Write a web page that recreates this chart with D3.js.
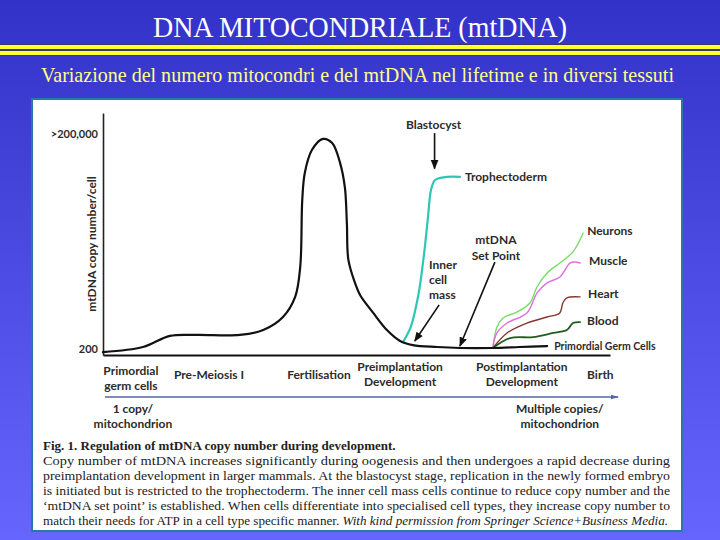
<!DOCTYPE html>
<html lang="it">
<head>
<meta charset="UTF-8">
<title>DNA MITOCONDRIALE (mtDNA)</title>
<script src="https://d3js.org/d3.v7.min.js"></script>
<style>
  html, body { margin: 0; padding: 0; background: #3333cc; }
  svg { display: block; }
  .lbl { font-family: Lato, "Open Sans", sans-serif; font-weight: 700; font-size: 12px; fill: #2b2b2b; }
  .cap { font-family: "Liberation Serif", "DejaVu Serif", serif; font-size: 13px; fill: #222; }
</style>
</head>
<body>
<div id="chart"></div>
<script>
  // ---- data (x: developmental time, 0-100; y: relative copy number, 0-100) ----
  const germline = [
    [0, 1.2], [7.9, 3.3], [13.2, 7.9], [18.5, 8.3], [27.0, 8.3], [31.6, 10.3],
    [35.5, 15.7], [37.9, 24.0], [38.9, 36.4], [39.3, 64.0], [39.8, 75.2],
    [41.2, 84.7], [43.4, 89.3], [45.2, 87.6], [46.7, 79.8], [47.7, 69.4],
    [48.1, 54.5], [48.4, 39.3], [49.7, 29.8], [50.7, 24.8], [53.3, 17.4],
    [56.0, 10.3], [58.6, 5.8], [61.1, 4.1], [65.9, 3.3], [70.4, 2.9],
    [76.9, 2.9], [82.2, 3.3], [87.6, 3.7]
  ];
  const trophectoderm = [
    [59.2, 5.4], [60.7, 11.6], [62.2, 24.8], [63.3, 41.3], [64.1, 57.0],
    [64.7, 68.2], [65.5, 72.3], [67.9, 73.6], [70.4, 73.6]
  ];
  const neurons = [
    [76.9, 3.3], [77.7, 11.6], [78.9, 15.3], [81.7, 17.8], [84.2, 21.5],
    [85.6, 28.1], [87.6, 33.9], [90.1, 38.0], [92.7, 42.6], [94.7, 50.4]
  ];
  const muscle = [
    [76.9, 2.9], [77.7, 9.1], [79.7, 13.2], [83.6, 17.4], [85.6, 25.6],
    [87.6, 29.8], [90.1, 32.2], [92.1, 38.0], [93.1, 38.4], [94.1, 38.0]
  ];
  const heart = [
    [76.9, 2.9], [79.7, 9.1], [83.6, 13.2], [87.6, 15.7], [90.1, 17.4],
    [90.7, 21.5], [91.5, 23.6], [94.1, 24.0]
  ];
  const blood = [
    [76.9, 2.9], [80.3, 7.0], [84.8, 7.4], [88.8, 9.1], [91.5, 10.3],
    [92.7, 13.2], [94.1, 13.6]
  ];
  const yTicks = [2.5, 91.3];
  const yTickLabels = ["200", ">200,000"];

  const stageNames = [["Primordial", "germ cells"], ["Pre-Meiosis I"], ["Fertilisation"],
    ["Preimplantation", "Development"], ["Postimplantation", "Development"], ["Birth"]];
  const stageX = [5.5, 20.9, 42.6, 58.6, 82.6, 98.1];

  const captionTitle = "Fig. 1. Regulation of mtDNA copy number during development.";
  const captionLines = [
    "Copy number of mtDNA increases significantly during oogenesis and then undergoes a rapid decrease during",
    "preimplantation development in larger mammals. At the blastocyst stage, replication in the newly formed embryo",
    "is initiated but is restricted to the trophectoderm. The inner cell mass cells continue to reduce copy number and the",
    "\u2018mtDNA set point\u2019 is established. When cells differentiate into specialised cell types, they increase copy number to"
  ];
  const captionLast = ["match their needs for ATP in a cell type specific manner. ",
    "With kind permission from Springer Science+Business Media."];

  const W = 720, H = 540;
  const svg = d3.select('#chart').append('svg')
    .attr('width', W).attr('height', H);

  // slide background
  const defs = svg.append('defs');
  const grad = defs.append('linearGradient').attr('id', 'bg')
    .attr('x1', 0).attr('y1', 0).attr('x2', 0).attr('y2', 1);
  grad.append('stop').attr('offset', '0%').attr('stop-color', '#3232c8');
  grad.append('stop').attr('offset', '100%').attr('stop-color', '#6666ff');
  svg.append('rect').attr('width', W).attr('height', H).attr('fill', 'url(#bg)');

  svg.append('text')
    .attr('x', 360).attr('y', 37).attr('text-anchor', 'middle')
    .attr('textLength', 414).attr('lengthAdjust', 'spacingAndGlyphs')
    .style('font-family', '"Liberation Serif", serif').style('font-size', '30px')
    .attr('fill', '#ffffff')
    .text('DNA MITOCONDRIALE (mtDNA)');

  svg.append('rect').attr('x', 0).attr('y', 44).attr('width', W).attr('height', 12).attr('fill', '#3a3a66');
  svg.append('rect').attr('x', 0).attr('y', 45).attr('width', W).attr('height', 4).attr('fill', '#ffff33');
  svg.append('rect').attr('x', 0).attr('y', 51).attr('width', W).attr('height', 4).attr('fill', '#ffff33');

  svg.append('text')
    .attr('x', 41).attr('y', 82)
    .attr('textLength', 633).attr('lengthAdjust', 'spacingAndGlyphs')
    .style('font-family', '"Liberation Serif", serif').style('font-size', '21px')
    .attr('fill', '#ffff88')
    .text('Variazione del numero mitocondri e del mtDNA nel lifetime e in diversi tessuti');

  // figure panel
  svg.append('rect').attr('x', 32).attr('y', 99).attr('width', 650).attr('height', 432)
    .attr('fill', '#ffffff').attr('stroke', '#2a78a6').attr('stroke-width', 2);

  const x = d3.scaleLinear().domain([0, 100]).range([103, 610]);
  const y = d3.scaleLinear().domain([0, 100]).range([355, 113]);

  const yAxis = svg.append('g').attr('transform', `translate(${x(0)},0)`)
    .call(d3.axisLeft(y).tickValues(yTicks).tickSize(0).tickPadding(5)
      .tickFormat((d, i) => yTickLabels[i]));
  yAxis.select('.domain').attr('stroke', '#222').attr('stroke-width', 1.6);
  yAxis.selectAll('text').attr('class', 'lbl').style('font-size', '11px');

  const xAxis = svg.append('g').attr('transform', `translate(0,${y(0)})`)
    .call(d3.axisBottom(x).tickValues([]).tickSizeOuter(0));
  xAxis.select('.domain').attr('stroke', '#111').attr('stroke-width', 2);

  svg.append('text').attr('class', 'lbl')
    .attr('transform', `translate(92,${(180 + 308) / 2}) rotate(-90)`)
    .attr('text-anchor', 'middle').attr('dy', '0.35em')
    .text('mtDNA copy number/cell');

  const line = d3.line().x(d => x(d[0])).y(d => y(d[1])).curve(d3.curveCatmullRom.alpha(0.5));

  const series = [
    { data: trophectoderm, color: '#2ec7b4', w: 2.2 },
    { data: neurons, color: '#77dd66', w: 1.4 },
    { data: muscle, color: '#dd6ee0', w: 1.4 },
    { data: heart, color: '#8a3434', w: 1.4 },
    { data: blood, color: '#1d5e1d', w: 1.8 },
    { data: germline, color: '#111111', w: 2.2 }
  ];
  svg.selectAll('path.curve').data(series).enter().append('path')
    .attr('class', 'curve')
    .attr('d', d => line(d.data))
    .attr('fill', 'none')
    .attr('stroke', d => d.color)
    .attr('stroke-width', d => d.w)
    .attr('stroke-linecap', 'round');

  // end labels
  const endLabels = [
    [trophectoderm, 'Trophectoderm', 5, 0],
    [neurons, 'Neurons', 4, -2],
    [muscle, 'Muscle', 9, -2],
    [heart, 'Heart', 8, -3],
    [blood, 'Blood', 7, -1],
    [germline, 'Primordial Germ Cells', 7, 0]
  ];
  svg.selectAll('text.end').data(endLabels).enter().append('text')
    .attr('class', 'lbl end')
    .attr('x', d => x(d[0][d[0].length - 1][0]) + d[2])
    .attr('y', d => y(d[0][d[0].length - 1][1]) + d[3])
    .attr('dy', '0.35em')
    .style('font-size', d => d[1] === 'Primordial Germ Cells' ? '10.5px' : '12px')
    .text(d => d[1]);

  // arrows
  defs.append('marker').attr('id', 'ah').attr('viewBox', '0 0 10 10')
    .attr('refX', 9).attr('refY', 5).attr('markerWidth', 6).attr('markerHeight', 6)
    .attr('orient', 'auto-start-reverse')
    .append('path').attr('d', 'M0,1 L10,5 L0,9 z').attr('fill', '#111');
  defs.append('marker').attr('id', 'ahb').attr('viewBox', '0 0 10 10')
    .attr('refX', 9).attr('refY', 5).attr('markerWidth', 5).attr('markerHeight', 5)
    .attr('orient', 'auto')
    .append('path').attr('d', 'M0,2 L10,5 L0,8 z').attr('fill', '#5566aa');

  const arrows = [
    [[65.4, 91.7], [65.4, 77.0]],
    [[66.3, 20.7], [61.5, 5.8]],
    [[77.3, 38.4], [70.4, 3.7]]
  ];
  svg.selectAll('line.arr').data(arrows).enter().append('line')
    .attr('class', 'arr')
    .attr('x1', d => x(d[0][0])).attr('y1', d => y(d[0][1]))
    .attr('x2', d => x(d[1][0])).attr('y2', d => y(d[1][1]))
    .attr('stroke', '#111').attr('stroke-width', 1.6)
    .attr('marker-end', 'url(#ah)');

  svg.append('text').attr('class', 'lbl').attr('text-anchor', 'middle')
    .attr('x', x(65.2)).attr('y', 129).text('Blastocyst');
  ['Inner', 'cell', 'mass'].forEach((t, i) => {
    svg.append('text').attr('class', 'lbl').attr('x', x(64.3)).attr('y', 269 + i * 15).text(t);
  });
  ['mtDNA', 'Set Point'].forEach((t, i) => {
    svg.append('text').attr('class', 'lbl').attr('text-anchor', 'middle')
      .attr('x', x(77.5)).attr('y', 244 + i * 15.5).text(t);
  });

  // stage labels under the axis
  const stages = svg.selectAll('text.stage').data(stageNames).enter().append('text')
    .attr('class', 'lbl stage').attr('text-anchor', 'middle')
    .attr('x', (d, i) => x(stageX[i]));
  stages.each(function (d, i) {
    const t = d3.select(this);
    const base = d.length === 2 ? (i === 0 ? 375 : 371) : 379;
    d.forEach((s, k) => {
      t.append('tspan').attr('x', x(stageX[i])).attr('y', base + k * 15).text(s);
    });
  });

  svg.append('line')
    .attr('x1', x(0.4)).attr('x2', x(101.6)).attr('y1', 397).attr('y2', 397)
    .attr('stroke', '#5566aa').attr('stroke-width', 1.6)
    .attr('marker-end', 'url(#ahb)');

  [['1 copy/', 'mitochondrion', 5.9], ['Multiple copies/', 'mitochondrion', 90.1]].forEach(d => {
    svg.append('text').attr('class', 'lbl').attr('text-anchor', 'middle')
      .attr('x', x(d[2])).attr('y', 413).text(d[0]);
    svg.append('text').attr('class', 'lbl').attr('text-anchor', 'middle')
      .attr('x', x(d[2])).attr('y', 428).text(d[1]);
  });

  // caption
  svg.append('text').attr('class', 'cap').attr('x', 43).attr('y', 450)
    .style('font-weight', 'bold').text(captionTitle);
  captionLines.forEach((t, i) => {
    svg.append('text').attr('class', 'cap').attr('x', 43).attr('y', 465 + i * 15)
      .attr('textLength', 627).attr('lengthAdjust', 'spacingAndGlyphs').text(t);
  });
  const last = svg.append('text').attr('class', 'cap').attr('x', 43).attr('y', 525)
    .attr('textLength', 625).attr('lengthAdjust', 'spacingAndGlyphs');
  last.append('tspan').text(captionLast[0]);
  last.append('tspan').style('font-style', 'italic').text(captionLast[1]);
</script>
</body>
</html>
